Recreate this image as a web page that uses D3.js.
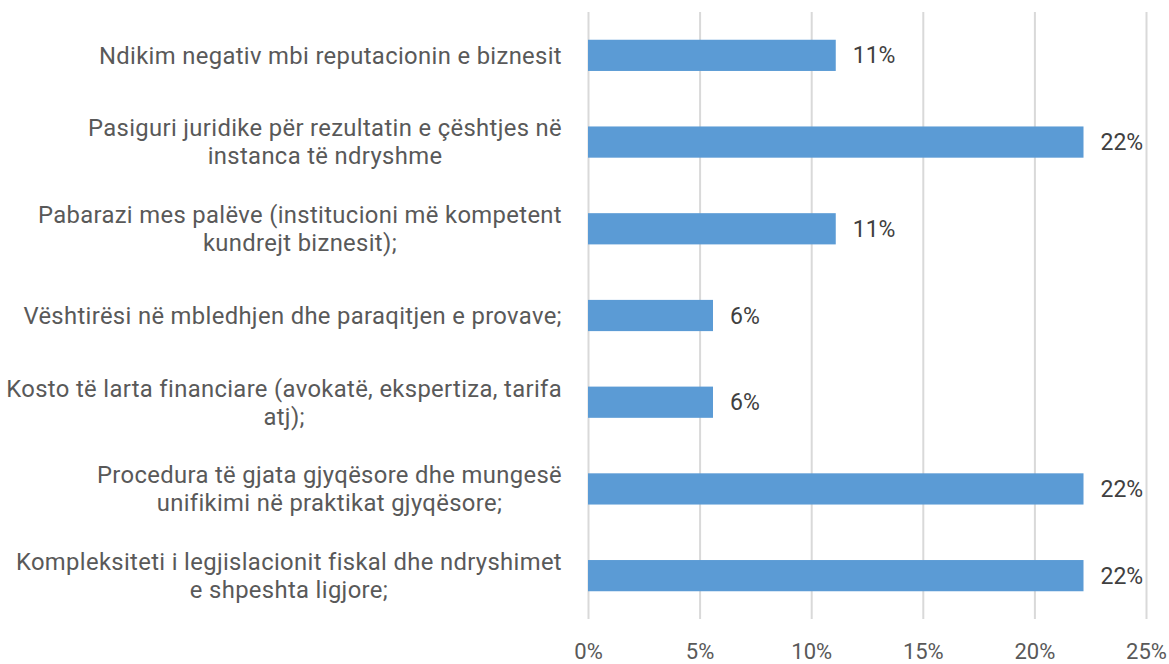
<!DOCTYPE html>
<html>
<head>
<meta charset="utf-8">
<script src="https://cdn.jsdelivr.net/npm/d3@7"></script>
<style>
  body { margin: 0; background: #fff; }
  svg { display: block; font-family: Roboto, "Open Sans", sans-serif; }
</style>
</head>
<body>
<svg width="1169" height="664"></svg>
<script>
// category labels, line breaks as in the original chart
const categories = [
  "Ndikim negativ mbi reputacionin e biznesit",
  "Pasiguri juridike për rezultatin e çështjes në\ninstanca të ndryshme",
  "Pabarazi mes palëve (institucioni më kompetent\nkundrejt biznesit);",
  "Vështirësi në mbledhjen dhe paraqitjen e provave;",
  "Kosto të larta financiare (avokatë, ekspertiza, tarifa\natj);",
  "Procedura të gjata gjyqësore dhe mungesë\nunifikimi në praktikat gjyqësore;",
  "Kompleksiteti i legjislacionit fiskal dhe ndryshimet\ne shpeshta ligjore;"
];
const values = [0.111, 0.222, 0.111, 0.056, 0.056, 0.222, 0.222];
const tickValues = [0, 0.05, 0.10, 0.15, 0.20, 0.25];

var svg = d3.select("svg");

var x = d3.scaleLinear().domain([0, 0.25]).range([588, 1146]);
var y = d3.scaleBand().domain(categories).range([12, 619])
  .paddingInner(0.64).paddingOuter(0.32);

// gridlines + tick labels
var axis = svg.append("g")
  .attr("transform", "translate(0,619)")
  .call(d3.axisBottom(x).tickValues(tickValues).tickSize(-607).tickFormat(d3.format(".0%")));
axis.select(".domain").remove();
axis.selectAll(".tick line").attr("stroke", "#d9d9d9").attr("stroke-width", 2);
axis.selectAll(".tick text")
  .attr("y", 32).attr("dy", "0.35em")
  .attr("fill", "#595959")
  .style("font-size", "22px")
  .style("font-family", "Roboto, sans-serif");

// bars
svg.selectAll(".bar")
  .data(values)
  .enter().append("rect")
  .attr("class", "bar")
  .attr("x", x(0))
  .attr("y", function(d, i) { return y(categories[i]); })
  .attr("width", function(d) { return x(d) - x(0); })
  .attr("height", y.bandwidth())
  .attr("fill", "#5b9bd5");

// value labels
svg.selectAll(".val")
  .data(values)
  .enter().append("text")
  .attr("class", "val")
  .attr("x", function(d) { return x(d) + 17; })
  .attr("y", function(d, i) { return y(categories[i]) + y.bandwidth() / 2; })
  .attr("dy", "0.35em")
  .attr("fill", "#404040")
  .style("font-size", "23px")
  .text(d3.format(".0%"));

// category labels: block right-aligned, lines centred within it
var labelRight = 562, lineH = 28;
var cat = svg.selectAll(".cat")
  .data(categories)
  .enter().append("text")
  .attr("class", "cat")
  .attr("fill", "#595959")
  .style("font-size", "23.8px")
  .style("letter-spacing", "0.35px")
  .attr("text-anchor", "middle");

cat.each(function(c) {
  var t = d3.select(this);
  var lines = c.split("\n");
  var cy = y(c) + y.bandwidth() / 2;
  lines.forEach(function(l, k) {
    t.append("tspan")
      .attr("x", 0)
      .attr("y", cy + (k - (lines.length - 1) / 2) * lineH)
      .attr("dy", "0.35em")
      .text(l);
  });
  var w = this.getBBox().width;
  t.selectAll("tspan").attr("x", labelRight - w / 2);
});
</script>
</body>
</html>
